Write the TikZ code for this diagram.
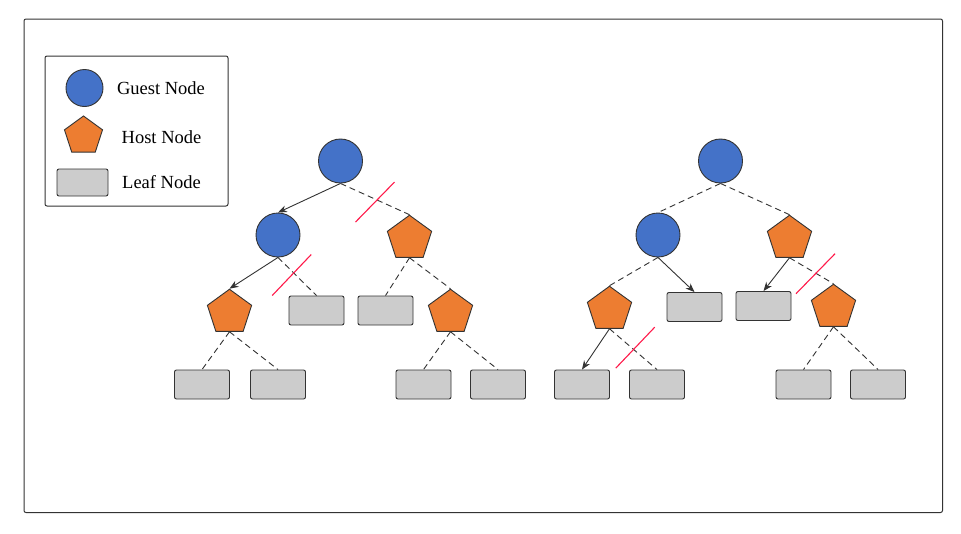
\documentclass[tikz,border=0pt]{standalone}
\usepackage{fontspec}
\setmainfont{Liberation Serif}
\usetikzlibrary{shapes.geometric,arrows.meta,calc}
\definecolor{guestblue}{HTML}{4472C8}
\definecolor{hostorange}{HTML}{ED7D31}
\definecolor{leafgray}{HTML}{CCCCCC}
\definecolor{linegray}{HTML}{333333}
\definecolor{slashred}{HTML}{FF1A4A}
\tikzset{
  guest/.style={circle,draw=linegray,line width=0.9pt,fill=guestblue,minimum size=44pt,inner sep=0pt},
  host/.style={regular polygon,regular polygon sides=5,draw=linegray,line width=0.9pt,fill=hostorange,minimum size=46.5pt,inner sep=0pt},
  leaf/.style={rectangle,rounded corners=2pt,draw=linegray,line width=0.9pt,fill=leafgray,minimum width=55pt,minimum height=29pt,inner sep=0pt},
  hidden/.style={draw=linegray,line width=0.9pt,dash pattern=on 6pt off 4pt},
  kept/.style={draw=linegray,line width=0.9pt,-{Stealth[length=9pt,width=7pt]}},
  slash/.style={draw=slashred,line width=1.1pt},
  lbl/.style={font=\fontsize{18.5}{22}\selectfont,text=black,inner sep=0pt}
}
\begin{document}
\begin{tikzpicture}[x=1pt,y=-1pt]
\useasboundingbox (0,0) rectangle (961,533);
\fill[white] (0,0) rectangle (961,533);
\draw[linegray,line width=1pt,rounded corners=2pt] (24,19) rectangle (942.5,512.5);

% legend
\draw[linegray,line width=1pt,rounded corners=2pt] (45,56) rectangle (228,206);
\node[guest,minimum size=37pt] (lg) at (84.5,88) {};
\node[host,minimum size=40pt] (lh) at (83.5,136) {};
\node[leaf,minimum width=51pt,minimum height=27pt] (ll) at (82.5,182.5) {};
\node[lbl] (tg) at (161,88) {Guest Node};
\node[lbl] (th) at (161.5,137) {Host Node};
\node[lbl] (tl) at (161.5,182) {Leaf Node};

% left tree
\node[guest] (A) at (340.5,161) {};
\node[guest] (B) at (278,235) {};
\node[host] (C) at (409.5,238.5) {};
\node[host] (D) at (229.5,312.5) {};
\node[leaf] (E) at (316.5,310.5) {};
\node[leaf] (F) at (385.5,310.5) {};
\node[host] (G) at (450.5,312.5) {};
\node[leaf] (H) at (202,384.5) {};
\node[leaf] (I) at (278,384.5) {};
\node[leaf] (J) at (423.5,384.5) {};
\node[leaf] (K) at (498,384.5) {};

\draw[kept] (A.south) -- (B.north);
\draw[hidden] (A.south) -- coordinate[pos=0.5] (m1) (C.north);
\draw[kept] (B.south) -- (D.north);
\draw[hidden] (B.south) -- coordinate[pos=0.5] (m2) (E.north);
\draw[hidden] (C.south) -- (F.north);
\draw[hidden] (C.south) -- (G.north);
\draw[hidden] (D.south) -- (H.north);
\draw[hidden] (D.south) -- (I.north);
\draw[hidden] (G.south) -- (J.north);
\draw[hidden] (G.south) -- (K.north);
\draw[slash] ($(m1)+(-19.5,23)$) -- ++(39,-40);
\draw[slash] ($(m2)+(-25,19)$) -- ++(39,-41);

% right tree
\node[guest] (P) at (720.5,161) {};
\node[guest] (Q) at (658,235) {};
\node[host] (R) at (789.5,238.5) {};
\node[host] (S) at (609.5,309.5) {};
\node[leaf] (T) at (694.5,307) {};
\node[leaf] (U) at (763.5,306) {};
\node[host] (V) at (833.5,307.5) {};
\node[leaf] (W) at (582,384.5) {};
\node[leaf] (X) at (657,384.5) {};
\node[leaf] (Y) at (803.5,384.5) {};
\node[leaf] (Z) at (878,384.5) {};

\draw[hidden] (P.south) -- (Q.north);
\draw[hidden] (P.south) -- (R.north);
\draw[hidden] (Q.south) -- (S.north);
\draw[kept] (Q.south) -- (T.north);
\draw[kept] (R.south) -- (U.north);
\draw[hidden] (R.south) -- coordinate[pos=0.5] (m3) (V.north);
\draw[kept] (S.south) -- (W.north);
\draw[hidden] (S.south) -- coordinate[pos=0.5] (m4) (X.north);
\draw[hidden] (V.south) -- (Y.north);
\draw[hidden] (V.south) -- (Z.north);
\draw[slash] ($(m3)+(-15.5,23)$) -- ++(39,-40);
\draw[slash] ($(m4)+(-17.5,19)$) -- ++(39,-41);
\end{tikzpicture}
\end{document}
